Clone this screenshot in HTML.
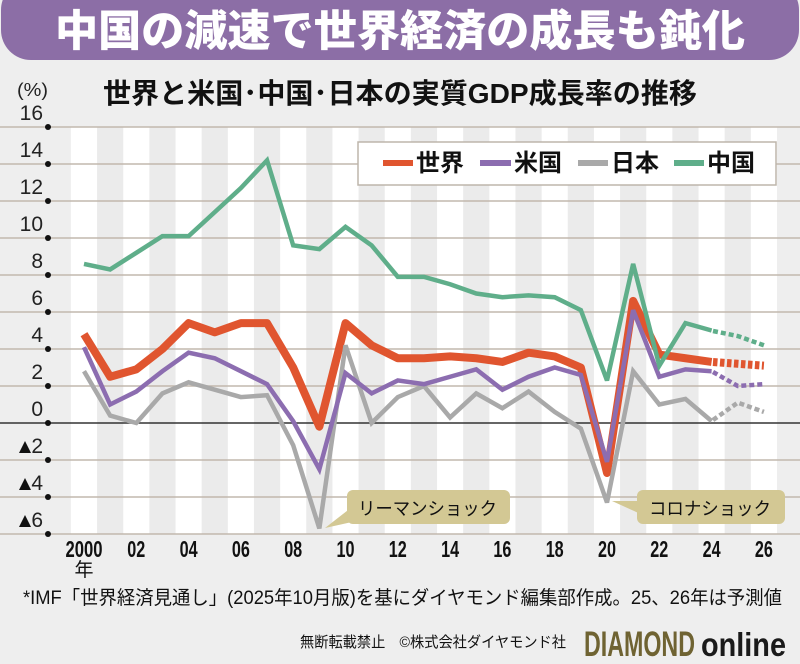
<!DOCTYPE html>
<html><head><meta charset="utf-8"><style>
html,body{margin:0;padding:0;background:#eeeeee;}
svg{display:block;}
text{font-family:"Liberation Sans","Noto Sans CJK JP",sans-serif;}
</style></head><body>
<svg width="800" height="664" viewBox="0 0 800 664" xmlns="http://www.w3.org/2000/svg">
<rect x="0" y="0" width="800" height="664" fill="#eeeeee"/>
<!-- title banner -->
<rect x="1" y="-20" width="798" height="80" rx="30" ry="30" fill="#8c6ea6"/>
<text x="400" y="46" text-anchor="middle" font-size="43" font-weight="900" fill="#ffffff" textLength="690" lengthAdjust="spacingAndGlyphs" style="font-family:'Noto Sans CJK JP',sans-serif">中国の減速で世界経済の成長も鈍化</text>
<!-- subtitle -->
<text x="400" y="103" text-anchor="middle" font-size="28" font-weight="700" fill="#111" textLength="594" lengthAdjust="spacingAndGlyphs">世界と米国･中国･日本の実質GDP成長率の推移</text>
<text x="17" y="96" font-size="18" fill="#222" textLength="31" lengthAdjust="spacingAndGlyphs">(%)</text>

<!-- plot area -->
<rect x="70.9" y="127" width="706.1" height="407" fill="#ffffff"/>
<g fill="#ebebeb">
<rect x="97.075" y="127" width="26.15" height="407"/>
<rect x="149.375" y="127" width="26.15" height="407"/>
<rect x="201.675" y="127" width="26.15" height="407"/>
<rect x="253.975" y="127" width="26.15" height="407"/>
<rect x="306.275" y="127" width="26.15" height="407"/>
<rect x="358.575" y="127" width="26.15" height="407"/>
<rect x="410.875" y="127" width="26.15" height="407"/>
<rect x="463.175" y="127" width="26.15" height="407"/>
<rect x="515.475" y="127" width="26.15" height="407"/>
<rect x="567.775" y="127" width="26.15" height="407"/>
<rect x="620.075" y="127" width="26.15" height="407"/>
<rect x="672.375" y="127" width="26.15" height="407"/>
<rect x="724.675" y="127" width="26.15" height="407"/>
</g>
<!-- gridlines -->
<g stroke="#c2b8ad" stroke-width="1.5">
<line x1="0" y1="127" x2="800" y2="127"/>
<line x1="0" y1="164" x2="800" y2="164"/>
<line x1="0" y1="201" x2="800" y2="201"/>
<line x1="0" y1="238" x2="800" y2="238"/>
<line x1="0" y1="275" x2="800" y2="275"/>
<line x1="0" y1="312" x2="800" y2="312"/>
<line x1="0" y1="349" x2="800" y2="349"/>
<line x1="0" y1="386" x2="800" y2="386"/>
<line x1="0" y1="460" x2="800" y2="460"/>
<line x1="0" y1="497" x2="800" y2="497"/>
<line x1="0" y1="534" x2="800" y2="534"/>
</g>
<line x1="0" y1="423" x2="800" y2="423" stroke="#333" stroke-width="1.5"/>
<g fill="#111">
<circle cx="48" cy="127" r="3"/><circle cx="48" cy="164" r="3"/><circle cx="48" cy="201" r="3"/>
<circle cx="48" cy="238" r="3"/><circle cx="48" cy="275" r="3"/><circle cx="48" cy="312" r="3"/>
<circle cx="48" cy="349" r="3"/><circle cx="48" cy="386" r="3"/><circle cx="48" cy="423" r="3"/>
<circle cx="48" cy="460" r="3"/><circle cx="48" cy="497" r="3"/><circle cx="48" cy="534" r="3"/>
</g>
<!-- y labels -->
<g font-size="21" fill="#222" text-anchor="end">
<text x="43" y="120">16</text>
<text x="43" y="157">14</text>
<text x="43" y="194">12</text>
<text x="43" y="231">10</text>
<text x="43" y="268">8</text>
<text x="43" y="305">6</text>
<text x="43" y="342">4</text>
<text x="43" y="379">2</text>
<text x="43" y="416">0</text>
<text x="43" y="453">2</text>
<text x="43" y="490">4</text>
<text x="43" y="527">6</text>
</g>
<g fill="#111">
<polygon points="19,453 25,441 31,453"/>
<polygon points="19,490 25,478 31,490"/>
<polygon points="19,527 25,515 31,527"/>
</g>
<!-- x labels -->
<g font-size="23" font-weight="700" fill="#111" text-anchor="middle">
<text x="84" y="557" textLength="37" lengthAdjust="spacingAndGlyphs">2000</text>
<text x="136.3" y="557" textLength="18" lengthAdjust="spacingAndGlyphs">02</text>
<text x="188.6" y="557" textLength="18" lengthAdjust="spacingAndGlyphs">04</text>
<text x="240.9" y="557" textLength="18" lengthAdjust="spacingAndGlyphs">06</text>
<text x="293.2" y="557" textLength="18" lengthAdjust="spacingAndGlyphs">08</text>
<text x="345.5" y="557" textLength="18" lengthAdjust="spacingAndGlyphs">10</text>
<text x="397.8" y="557" textLength="18" lengthAdjust="spacingAndGlyphs">12</text>
<text x="450.1" y="557" textLength="18" lengthAdjust="spacingAndGlyphs">14</text>
<text x="502.4" y="557" textLength="18" lengthAdjust="spacingAndGlyphs">16</text>
<text x="554.7" y="557" textLength="18" lengthAdjust="spacingAndGlyphs">18</text>
<text x="607" y="557" textLength="18" lengthAdjust="spacingAndGlyphs">20</text>
<text x="659.3" y="557" textLength="18" lengthAdjust="spacingAndGlyphs">22</text>
<text x="711.6" y="557" textLength="18" lengthAdjust="spacingAndGlyphs">24</text>
<text x="763.9" y="557" textLength="18" lengthAdjust="spacingAndGlyphs">26</text>
</g>
<text x="84" y="576" font-size="19" fill="#111" text-anchor="middle">年</text>

<!-- series -->
<g fill="none" stroke-linecap="butt">
<!-- World -->
<polyline stroke="#e0552f" stroke-width="8" stroke-linejoin="round" points="84,334.2 110.15,376.75 136.3,369.35 162.45,349 188.6,323.1 214.75,332.35 240.9,323.1 267.05,323.1 293.2,367.5 319.35,426.7 345.5,323.1 371.65,345.3 397.8,358.25 423.95,358.25 450.1,356.4 476.25,358.25 502.4,361.95 528.55,352.7 554.7,356.4 580.85,367.5 607,472.95 633.15,300.9 659.3,354.55 685.45,358.25 711.6,361.95"/>
<polyline stroke="#e0552f" stroke-width="8" stroke-dasharray="4.5 2.5" points="713,362 737.75,363.8 763.9,365.65"/>
<!-- Japan -->
<polyline stroke="#a9a9a9" stroke-width="4.5" stroke-linejoin="miter" stroke-miterlimit="3" points="84,371.2 110.15,415.6 136.3,423 162.45,393.4 188.6,382.3 214.75,389.7 240.9,397.1 267.05,395.25 293.2,445.2 319.35,528.45 345.5,345.3 371.65,423 397.8,397.1 423.95,386 450.1,417.45 476.25,393.4 502.4,408.2 528.55,391.55 554.7,411.9 580.85,428.55 607,502.55 633.15,371.2 659.3,404.5 685.45,398.95 711.6,421.15"/>
<polyline stroke="#a9a9a9" stroke-width="4.5" stroke-dasharray="5 3" points="713,420 737.75,402.65 763.9,411.9"/>
<!-- US -->
<polyline stroke="#8c6db0" stroke-width="4.5" stroke-linejoin="miter" stroke-miterlimit="3" points="84,347.15 110.15,404.5 136.3,391.55 162.45,371.2 188.6,352.7 214.75,358.25 240.9,371.2 267.05,384.15 293.2,421.15 319.35,469.25 345.5,373.05 371.65,393.4 397.8,380.45 423.95,384.15 450.1,376.75 476.25,369.35 502.4,389.7 528.55,376.75 554.7,367.5 580.85,374.9 607,461.85 633.15,310.15 659.3,376.75 685.45,369.35 711.6,371.2"/>
<polyline stroke="#8c6db0" stroke-width="4.5" stroke-dasharray="5 3" points="713,372 737.75,386 763.9,384.15"/>
<!-- China -->
<polyline stroke="#5fae8a" stroke-width="4.5" stroke-linejoin="miter" stroke-miterlimit="3" points="84,263.9 110.15,269.45 136.3,252.8 162.45,236.15 188.6,236.15 214.75,212.1 240.9,188.05 267.05,160.3 293.2,245.4 319.35,249.1 345.5,226.9 371.65,245.4 397.8,276.85 423.95,276.85 450.1,284.25 476.25,293.5 502.4,297.2 528.55,295.35 554.7,297.2 580.85,310.15 607,380.45 633.15,263.9 659.3,365.65 685.45,323.1 711.6,330.5"/>
<polyline stroke="#5fae8a" stroke-width="4.5" stroke-dasharray="5 3" points="713,331 737.75,336.05 763.9,345.3"/>
</g>

<!-- legend -->
<rect x="358" y="142" width="418" height="43" fill="#ffffff" stroke="#bdb5ab" stroke-width="1.5"/>
<line x1="383" y1="163" x2="413" y2="163" stroke="#e0552f" stroke-width="6"/>
<text x="416" y="171" font-size="24" font-weight="700" fill="#111">世界</text>
<line x1="480" y1="163" x2="511" y2="163" stroke="#8c6db0" stroke-width="6"/>
<text x="514" y="171" font-size="24" font-weight="700" fill="#111">米国</text>
<line x1="578" y1="163" x2="608" y2="163" stroke="#a9a9a9" stroke-width="6"/>
<text x="611" y="171" font-size="24" font-weight="700" fill="#111">日本</text>
<line x1="674" y1="163" x2="704" y2="163" stroke="#5fae8a" stroke-width="6"/>
<text x="707" y="171" font-size="24" font-weight="700" fill="#111">中国</text>

<!-- callouts -->
<polygon points="352,507 352,522 325,528" fill="#d3c894"/>
<rect x="347" y="490" width="163" height="34" rx="6" fill="#d3c894"/>
<text x="358" y="515" font-size="18" fill="#111" textLength="139" lengthAdjust="spacingAndGlyphs">リーマンショック</text>
<polygon points="645,501 645,516 612,501" fill="#d3c894"/>
<rect x="637" y="490" width="148" height="34" rx="6" fill="#d3c894"/>
<text x="649" y="515" font-size="18" fill="#111" textLength="122" lengthAdjust="spacingAndGlyphs">コロナショック</text>

<!-- footnote -->
<text x="23" y="604" font-size="19" fill="#111" textLength="759" lengthAdjust="spacingAndGlyphs">*IMF「世界経済見通し」(2025年10月版)を基にダイヤモンド編集部作成。25、26年は予測値</text>
<text x="300" y="647" font-size="15" fill="#111" textLength="266" lengthAdjust="spacingAndGlyphs">無断転載禁止　©株式会社ダイヤモンド社</text>
<text x="584" y="656" font-size="35" font-weight="700" fill="#6f6332" textLength="111" lengthAdjust="spacingAndGlyphs">DIAMOND</text>
<text x="701" y="656" font-size="33" font-weight="700" fill="#1a1a1a" textLength="85" lengthAdjust="spacingAndGlyphs">online</text>
</svg>
</body></html>
